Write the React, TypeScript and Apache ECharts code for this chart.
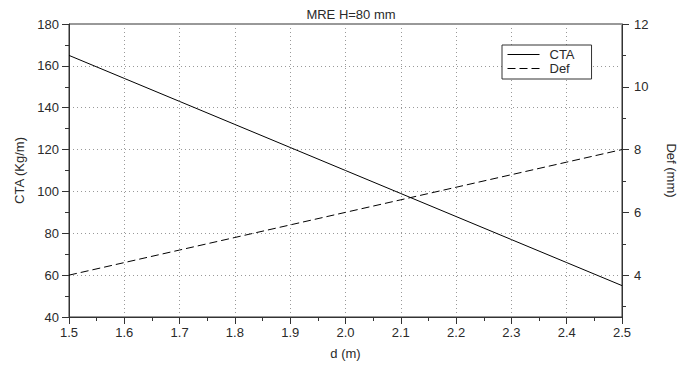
import React, { useEffect, useRef } from "react";
import * as echarts from "echarts";

const dValues = [1.5, 1.6, 1.7, 1.8, 1.9, 2.0, 2.1, 2.2, 2.3, 2.4, 2.5];
const ctaValues = [165, 154, 143, 132, 121, 110, 99, 88, 77, 66, 55];
const defValues = [4.0, 4.4, 4.8, 5.2, 5.6, 6.0, 6.4, 6.8, 7.2, 7.6, 8.0];
const rightMajorTicks = [4, 6, 8, 10, 12];
const rightMinorTicks = [3, 5, 7, 9, 11];
const titleText = "MRE H=80 mm";

const FONT = "Liberation Sans, Arial, Helvetica, sans-serif";
const TXT = "#2a2a2a";
const AX = "#333";

export default function App() {
  const ref = useRef<HTMLDivElement>(null);
  useEffect(() => {
    if (!ref.current) return;
    const chart = echarts.init(ref.current, null, { renderer: "svg" });
    const labelStyle = { color: TXT, fontSize: 13, fontFamily: FONT };
    const rMin = 2.6667;
    const rMax = 12;
    chart.setOption({
      animation: false,
      textStyle: { fontFamily: FONT },
      title: {
        text: titleText,
        left: 346,
        textAlign: "center",
        top: 3,
        textStyle: { fontSize: 13, fontWeight: "normal", color: TXT, fontFamily: FONT },
      },
      grid: {
        left: 69,
        right: 69,
        top: 24,
        bottom: 44.5,
        show: true,
        borderColor: AX,
        borderWidth: 1,
        backgroundColor: "transparent",
      },
      legend: {
        left: 502,
        top: 45,
        orient: "vertical",
        padding: [3, 17, 4, 5],
        itemGap: 1,
        itemWidth: 32,
        itemHeight: 14,
        borderColor: AX,
        borderWidth: 1,
        borderRadius: 0,
        backgroundColor: "#fff",
        itemStyle: { opacity: 0 },
        lineStyle: { width: 1 },
        textStyle: { ...labelStyle, padding: [0, 0, 0, 5] },
        data: ["CTA", "Def"],
      },
      xAxis: {
        type: "value",
        min: 1.5,
        max: 2.5,
        interval: 0.1,
        name: "d (m)",
        nameLocation: "middle",
        nameGap: 30,
        nameTextStyle: labelStyle,
        axisLine: { show: true, lineStyle: { color: AX, width: 1 } },
        axisTick: { show: true, length: 7, lineStyle: { color: AX } },
        minorTick: { show: true, splitNumber: 2, length: 4, lineStyle: { color: AX } },
        axisLabel: { ...labelStyle, margin: 9, formatter: (v: number) => v.toFixed(1) },
        splitLine: { show: true, lineStyle: { color: "#999", type: [1, 3], width: 1 } },
      },
      yAxis: [
        {
          type: "value",
          min: 40,
          max: 180,
          interval: 20,
          position: "left",
          name: "CTA (Kg/m)",
          nameLocation: "middle",
          nameRotate: 90,
          nameGap: 41,
          nameTextStyle: labelStyle,
          axisLine: { show: true, lineStyle: { color: AX, width: 1 } },
          axisTick: { show: true, length: 7, lineStyle: { color: AX } },
          minorTick: { show: true, splitNumber: 2, length: 4, lineStyle: { color: AX } },
          axisLabel: { ...labelStyle, margin: 10 },
          splitLine: { show: true, lineStyle: { color: "#999", type: [1, 3], width: 1 } },
        },
        {
          type: "value",
          min: rMin,
          max: rMax,
          position: "right",
          name: "Def (mm)",
          nameLocation: "middle",
          nameRotate: -90,
          nameGap: 43,
          nameTextStyle: labelStyle,
          axisLine: { show: true, onZero: false, lineStyle: { color: AX, width: 1 } },
          axisTick: { show: true, length: 7, customValues: rightMajorTicks, lineStyle: { color: AX } },
          axisLabel: { ...labelStyle, margin: 12, customValues: rightMajorTicks },
          splitLine: { show: false },
        },
        {
          type: "value",
          min: rMin,
          max: rMax,
          position: "right",
          axisLine: { show: false },
          axisTick: { show: true, length: 4, customValues: rightMinorTicks, lineStyle: { color: AX } },
          axisLabel: { show: false },
          splitLine: { show: false },
        },
      ],
      series: [
        {
          name: "CTA",
          type: "line",
          yAxisIndex: 0,
          data: dValues.map((d, i) => [d, ctaValues[i]]),
          symbol: "none",
          showSymbol: false,
          lineStyle: { color: "#000", width: 1 },
          itemStyle: { color: "#000" },
        },
        {
          name: "Def",
          type: "line",
          yAxisIndex: 1,
          data: dValues.map((d, i) => [d, defValues[i]]),
          symbol: "none",
          showSymbol: false,
          lineStyle: { color: "#000", width: 1, type: [8, 4] },
          itemStyle: { color: "#000" },
        },
      ],
    });
    return () => chart.dispose();
  }, []);
  return <div ref={ref} style={{ width: 691, height: 365, position: "absolute", left: 0, top: 0, background: "#fff" }} />;
}
